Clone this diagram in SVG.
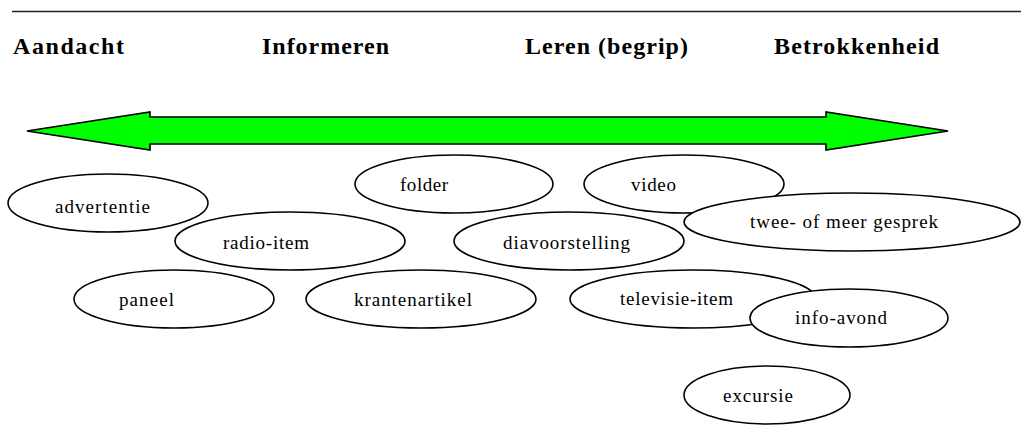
<svg xmlns="http://www.w3.org/2000/svg" width="1021" height="447" viewBox="0 0 1021 447">
<style>
.h{font-family:'Liberation Serif','DejaVu Serif',serif;font-weight:bold;font-size:24px;fill:#000}
.n ellipse{fill:#fff;stroke:#000;stroke-width:1.6}
.n text{font-family:'Liberation Serif','DejaVu Serif',serif;font-size:19px;fill:#000}
</style>
<rect width="1021" height="447" fill="#fff"/>
<line x1="12" y1="11.5" x2="1021" y2="11.5" stroke="#222" stroke-width="1.6"/>
<g id="headers">
<text class="h" x="13" y="54" textLength="111" lengthAdjust="spacing">Aandacht</text>
<text class="h" x="262" y="54" textLength="127" lengthAdjust="spacing">Informeren</text>
<text class="h" x="525" y="54" textLength="163" lengthAdjust="spacing">Leren (begrip)</text>
<text class="h" x="774" y="54" textLength="165" lengthAdjust="spacing">Betrokkenheid</text>
</g>
<g id="arrow">
<polygon points="27,131 150,112 150,117 826,117 826,112 948,131 826,150 826,144 150,144 150,150" fill="#00ff00" stroke="#000" stroke-width="1.6" stroke-linejoin="miter"/>
</g>
<g id="connectors"></g>
<g id="advertentie" class="n"><ellipse cx="108" cy="203" rx="100" ry="29"/><text x="55" y="213" textLength="95" lengthAdjust="spacing">advertentie</text></g>
<g id="radio-item" class="n"><ellipse cx="290" cy="241" rx="115" ry="29"/><text x="223" y="249" textLength="86" lengthAdjust="spacing">radio-item</text></g>
<g id="paneel" class="n"><ellipse cx="174" cy="299" rx="100" ry="29"/><text x="119" y="306" textLength="55" lengthAdjust="spacing">paneel</text></g>
<g id="krantenartikel" class="n"><ellipse cx="421" cy="299" rx="115" ry="29"/><text x="354" y="306" textLength="118" lengthAdjust="spacing">krantenartikel</text></g>
<g id="folder" class="n"><ellipse cx="454" cy="184" rx="99" ry="29"/><text x="400" y="191" textLength="48" lengthAdjust="spacing">folder</text></g>
<g id="diavoorstelling" class="n"><ellipse cx="569" cy="241" rx="115" ry="29"/><text x="503" y="249" textLength="127" lengthAdjust="spacing">diavoorstelling</text></g>
<g id="video" class="n"><ellipse cx="684" cy="184" rx="100" ry="29"/><text x="631" y="191" textLength="45" lengthAdjust="spacing">video</text></g>
<g id="twee-of-meer-gesprek" class="n"><ellipse cx="852" cy="222" rx="168" ry="29"/><text x="750" y="228" textLength="188" lengthAdjust="spacing">twee- of meer gesprek</text></g>
<g id="televisie-item" class="n"><ellipse cx="693" cy="299" rx="123" ry="29"/><text x="620" y="305" textLength="113" lengthAdjust="spacing">televisie-item</text></g>
<g id="info-avond" class="n"><ellipse cx="849" cy="318" rx="99" ry="29"/><text x="795" y="324" textLength="92" lengthAdjust="spacing">info-avond</text></g>
<g id="excursie" class="n"><ellipse cx="767" cy="395" rx="83" ry="29"/><text x="723" y="402" textLength="70" lengthAdjust="spacing">excursie</text></g>
</svg>
